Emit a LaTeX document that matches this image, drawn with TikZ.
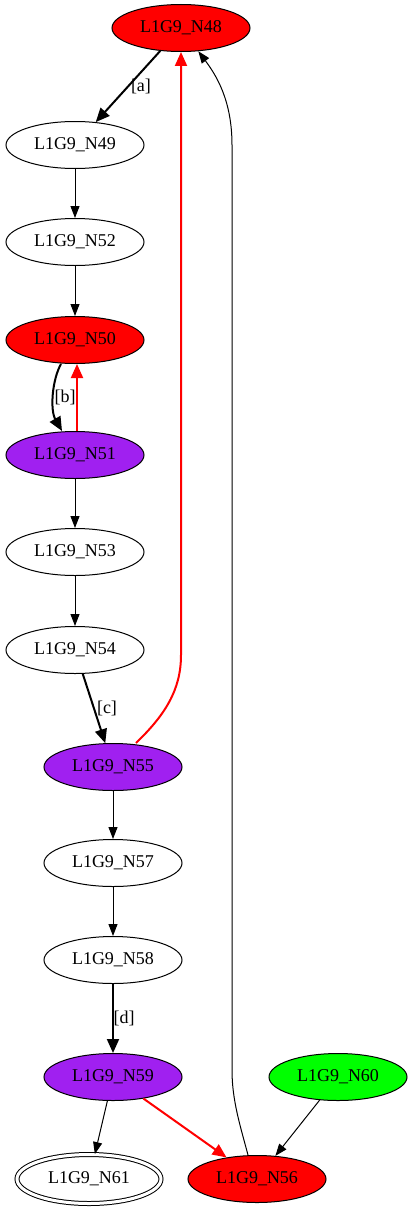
\documentclass[tikz,border=0pt]{standalone}
\usepackage{fontspec}
\setmainfont{Liberation Serif}
\usetikzlibrary{arrows.meta,shapes.geometric}
\definecolor{gvred}{HTML}{FF0000}
\definecolor{gvpurple}{HTML}{A020F0}
\definecolor{gvgreen}{HTML}{00FF00}
\tikzset{
  gnode/.style={ellipse,draw=black,line width=1pt,minimum width=138pt,minimum height=47pt,inner sep=0pt,font=\fontsize{18}{20}\selectfont},
  rednode/.style={gnode,fill=gvred},
  purplenode/.style={gnode,fill=gvpurple},
  greennode/.style={gnode,fill=gvgreen},
  whitenode/.style={gnode,fill=white},
  thin edge/.style={-{Triangle[length=12pt,width=9pt]},line width=1pt,black},
  thick edge/.style={-{Triangle[length=14pt,width=12pt]},line width=2pt,black},
  red edge/.style={-{Triangle[length=14pt,width=12pt]},line width=2pt,gvred},
  elabel/.style={font=\fontsize{18}{20}\selectfont,inner sep=0pt}
}
\begin{document}
\begin{tikzpicture}[x=1pt,y=-1pt]
\useasboundingbox[fill=white] (0,0) rectangle (413,1215);
\node[rednode] (N48) at (181,28) {L1G9\_N48};
\node[whitenode] (N49) at (75,145) {L1G9\_N49};
\node[whitenode] (N52) at (75,242) {L1G9\_N52};
\node[rednode] (N50) at (75,340) {L1G9\_N50};
\node[purplenode] (N51) at (75,455) {L1G9\_N51};
\node[whitenode] (N53) at (75,552) {L1G9\_N53};
\node[whitenode] (N54) at (75,650) {L1G9\_N54};
\node[purplenode] (N55) at (113,767) {L1G9\_N55};
\node[whitenode] (N57) at (113,863) {L1G9\_N57};
\node[whitenode] (N58) at (113,960) {L1G9\_N58};
\node[purplenode] (N59) at (113,1077) {L1G9\_N59};
\node[greennode] (N60) at (338,1077) {L1G9\_N60};
\node[gnode,fill=white,double,double distance=3pt,minimum width=144pt,minimum height=49pt] (N61) at (89,1179) {L1G9\_N61};
\node[rednode] (N56) at (257,1179) {L1G9\_N56};

\draw[thick edge] (N48) -- node[elabel,pos=0.5,right=2pt] {[a]} (N49);
\draw[thin edge] (N49) -- (N52);
\draw[thin edge] (N52) -- (N50);
\draw[thick edge] ([xshift=-14pt]N50.south) .. controls (52,380) and (50,410) .. ([xshift=-13pt]N51.north);
\node[elabel] (lb) at (65,397) {[b]};
\draw[red edge] ([xshift=2pt]N51.north) -- ([xshift=2pt]N50.south);
\draw[thin edge] (N51) -- (N53);
\draw[thin edge] (N53) -- (N54);
\draw[thick edge] (N54) -- (N55);
\node[elabel] (lc) at (107,708) {[c]};
\draw[red edge] ([xshift=23pt]N55.north) .. controls (165,715) and (181,690) .. (181,655) -- (N48);
\draw[thin edge] (N55) -- (N57);
\draw[thin edge] (N57) -- (N58);
\draw[thick edge] (N58) -- (N59);
\node[elabel] (ld) at (124,1018) {[d]};
\draw[thin edge] (N59) -- (N61);
\draw[red edge] (N59) -- (N56);
\draw[thin edge] (N60) -- (N56);
\draw[thin edge] ([xshift=-9pt]N56.north) .. controls (240,1125) and (232,1100) .. (232,1070) -- (232,145) .. controls (232,100) and (216,75) .. (N48);
\end{tikzpicture}
\end{document}
